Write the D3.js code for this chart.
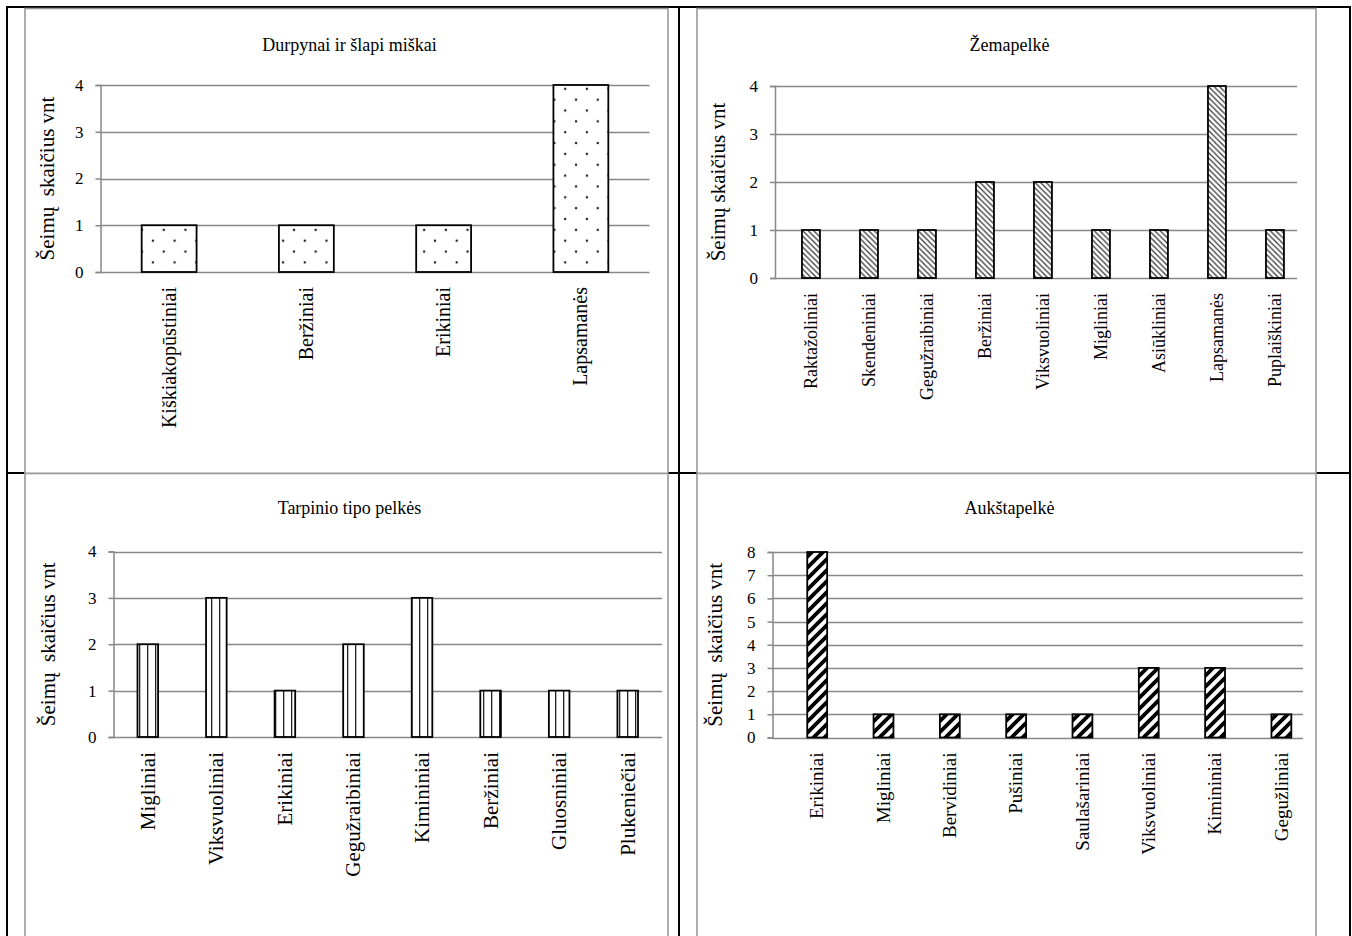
<!DOCTYPE html>
<html>
<head>
<meta charset="utf-8">
<script src="https://cdn.jsdelivr.net/npm/d3@7"></script>
<style>
  html, body { margin: 0; padding: 0; background: #fff; }
  svg { display: block; }
  text { font-family: "Liberation Serif", "Times New Roman", serif; fill: #000; }
</style>
</head>
<body>
<svg id="chart" width="1352" height="936"></svg>
<script>
// ---------- DATA ----------
const titles = ["Durpynai ir šlapi miškai", "Žemapelkė", "Tarpinio tipo pelkės", "Aukštapelkė"];
const yTitles = ["Šeimų  skaičius vnt", "Šeimų skaičius vnt", "Šeimų  skaičius vnt", "Šeimų  skaičius vnt"];

const cats1 = ["Kiškiakopūstiniai", "Beržiniai", "Erikiniai", "Lapsamanės"];
const vals1 = [1, 1, 1, 4];

const cats2 = ["Raktažoliniai", "Skendeniniai", "Gegužraibiniai", "Beržiniai", "Viksvuoliniai",
               "Migliniai", "Asiūkliniai", "Lapsamanės", "Puplaiškiniai"];
const vals2 = [1, 1, 1, 2, 2, 1, 1, 4, 1];

const cats3 = ["Migliniai", "Viksvuoliniai", "Erikiniai", "Gegužraibiniai", "Kimininiai",
               "Beržiniai", "Gluosniniai", "Plukeniečiai"];
const vals3 = [2, 3, 1, 2, 3, 1, 1, 1];

const cats4 = ["Erikiniai", "Migliniai", "Bervidiniai", "Pušiniai", "Saulašariniai",
               "Viksvuoliniai", "Kimininiai", "Gegužliniai"];
const vals4 = [8, 1, 1, 1, 1, 3, 3, 1];

const ticks4max = [0, 1, 2, 3, 4];
const ticks8max = [0, 1, 2, 3, 4, 5, 6, 7, 8];

// ---------- DRAWING ----------
const svg = d3.select("#chart");
const defs = svg.append("defs");

const pDots = defs.append("pattern").attr("id", "pDots").attr("patternUnits", "userSpaceOnUse")
  .attr("width", 21.7).attr("height", 21.7).attr("x", 1).attr("y", 2);
pDots.append("rect").attr("width", 21.7).attr("height", 21.7).attr("fill", "#fff");
[[0, 0], [21.7, 0], [0, 21.7], [21.7, 21.7], [10.85, 10.85]].forEach(([cx, cy]) =>
  pDots.append("circle").attr("cx", cx).attr("cy", cy).attr("r", 1.25).attr("fill", "#222"));

const pDown = defs.append("pattern").attr("id", "pDown").attr("patternUnits", "userSpaceOnUse")
  .attr("width", 5.5).attr("height", 5.5);
pDown.append("rect").attr("width", 5.5).attr("height", 5.5).attr("fill", "#fff");
pDown.append("path").attr("d", "M-1,-1 L6.5,6.5 M-1,4.5 L1,6.5 M4.5,-1 L6.5,1")
  .attr("stroke", "#333").attr("stroke-width", 1.2);

const pVert = defs.append("pattern").attr("id", "pVert").attr("patternUnits", "userSpaceOnUse")
  .attr("width", 8).attr("height", 8);
pVert.append("rect").attr("width", 8).attr("height", 8).attr("fill", "#fff");
pVert.append("rect").attr("x", 3).attr("width", 1.3).attr("height", 8).attr("fill", "#222");

const pUp = defs.append("pattern").attr("id", "pUp").attr("patternUnits", "userSpaceOnUse")
  .attr("width", 11).attr("height", 11);
pUp.append("rect").attr("width", 11).attr("height", 11).attr("fill", "#fff");
pUp.append("path").attr("d", "M-2,13 L13,-2 M-6,6 L6,-6 M5,17 L17,5")
  .attr("stroke", "#000").attr("stroke-width", 3.8);

const GRID = "#878787";
const BORDER = "#9a9a9a";

const tbl = svg.append("g");
tbl.append("line").attr("x1", 7).attr("x2", 7).attr("y1", 6).attr("y2", 936);
tbl.append("line").attr("x1", 6).attr("x2", 1351).attr("y1", 7).attr("y2", 7);
tbl.append("line").attr("x1", 1350).attr("x2", 1350).attr("y1", 6).attr("y2", 936);
tbl.append("line").attr("x1", 679).attr("x2", 679).attr("y1", 6).attr("y2", 936);
tbl.append("line").attr("x1", 7).attr("x2", 1350).attr("y1", 473).attr("y2", 473);
tbl.selectAll("line").attr("stroke", "#000").attr("stroke-width", 2);

// barPos: fraction of the category step where the bar centre sits; barW: fraction of step
const charts = [
  { box: [25, 8.5, 668, 473.5], cats: cats1, vals: vals1, ticks: ticks4max, pat: "pDots",
    x0: 100.5, x1: 649.5, y0: 272, yTop: 85, barPos: 0.5, barW: 0.4, titleY: 51, yTitleX: 47,
    labelSize: 20, yTitleSize: 21, title: titles[0], yTitle: yTitles[0] },
  { box: [697, 8.5, 1316, 473.5], cats: cats2, vals: vals2, ticks: ticks4max, pat: "pDown",
    x0: 775, x1: 1297, y0: 278, yTop: 86, barPos: 0.62, barW: 0.31, titleY: 51, yTitleX: 718,
    labelSize: 18, yTitleSize: 21, title: titles[1], yTitle: yTitles[1] },
  { box: [25, 473.5, 668, 945], cats: cats3, vals: vals3, ticks: ticks4max, pat: "pVert",
    x0: 113.5, x1: 662, y0: 737, yTop: 551.5, barPos: 0.5, barW: 0.3, titleY: 514, yTitleX: 48,
    labelSize: 21, yTitleSize: 21, title: titles[2], yTitle: yTitles[2] },
  { box: [697, 473.5, 1316, 945], cats: cats4, vals: vals4, ticks: ticks8max, pat: "pUp",
    x0: 772.5, x1: 1303, y0: 737.5, yTop: 552, barPos: 0.674, barW: 0.3, titleY: 514, yTitleX: 715,
    labelSize: 19, yTitleSize: 21, title: titles[3], yTitle: yTitles[3] }
];

charts.forEach(c => {
  const g = svg.append("g");
  const [bx0, by0, bx1, by1] = c.box;
  g.append("rect").attr("x", bx0).attr("y", by0).attr("width", bx1 - bx0).attr("height", by1 - by0)
    .attr("fill", "#fff").attr("stroke", BORDER).attr("stroke-width", 1.6);

  const x = d3.scaleBand().domain(c.cats).range([c.x0, c.x1]).padding(0);
  const step = x.step();
  const bw = step * c.barW;
  const cx = d => x(d) + step * c.barPos;
  const yMax = d3.max(c.ticks);
  const y = d3.scaleLinear().domain([0, yMax]).range([c.y0, c.yTop]);

  g.append("text").attr("x", (bx0 + bx1) / 2 + 3).attr("y", c.titleY)
    .attr("text-anchor", "middle").attr("font-size", 18).text(c.title);

  g.append("g").selectAll("line").data(c.ticks).join("line")
    .attr("x1", c.x0).attr("x2", c.x1)
    .attr("y1", d => Math.round(y(d)) + 0.5).attr("y2", d => Math.round(y(d)) + 0.5)
    .attr("stroke", GRID).attr("stroke-width", 1.5);

  const yAxis = d3.axisLeft(y).tickValues(c.ticks).tickSize(5).tickPadding(12).tickFormat(d3.format("d"));
  const ga = g.append("g").attr("transform", `translate(${c.x0},0)`).call(yAxis);
  ga.select(".domain").attr("stroke", GRID).attr("stroke-width", 1.5);
  ga.selectAll(".tick line").attr("stroke", GRID).attr("stroke-width", 1.5);
  ga.selectAll(".tick text").attr("font-size", 17)
    .attr("font-family", "Liberation Sans, Arial, sans-serif").attr("fill", "#000");

  g.append("g").selectAll("rect").data(c.cats).join("rect")
    .attr("x", d => cx(d) - bw / 2)
    .attr("y", (d, i) => y(c.vals[i]))
    .attr("width", bw)
    .attr("height", (d, i) => y(0) - y(c.vals[i]))
    .attr("fill", `url(#${c.pat})`)
    .attr("stroke", "#000").attr("stroke-width", 1.8);

  g.append("g").selectAll("text").data(c.cats).join("text")
    .attr("transform", d => `translate(${cx(d)},${c.y0 + 15}) rotate(-90)`)
    .attr("text-anchor", "end").attr("dy", "0.33em").attr("font-size", c.labelSize)
    .text(d => d);

  g.append("text")
    .attr("transform", `translate(${c.yTitleX},${(c.y0 + c.yTop) / 2}) rotate(-90)`)
    .attr("text-anchor", "middle").attr("dy", "0.33em").attr("font-size", c.yTitleSize)
    .attr("xml:space", "preserve").style("white-space", "pre")
    .text(c.yTitle);
});

svg.append("line").attr("x1", 668.8).attr("x2", 696.2).attr("y1", 473).attr("y2", 473)
  .attr("stroke", "#000").attr("stroke-width", 2);
</script>
</body>
</html>
